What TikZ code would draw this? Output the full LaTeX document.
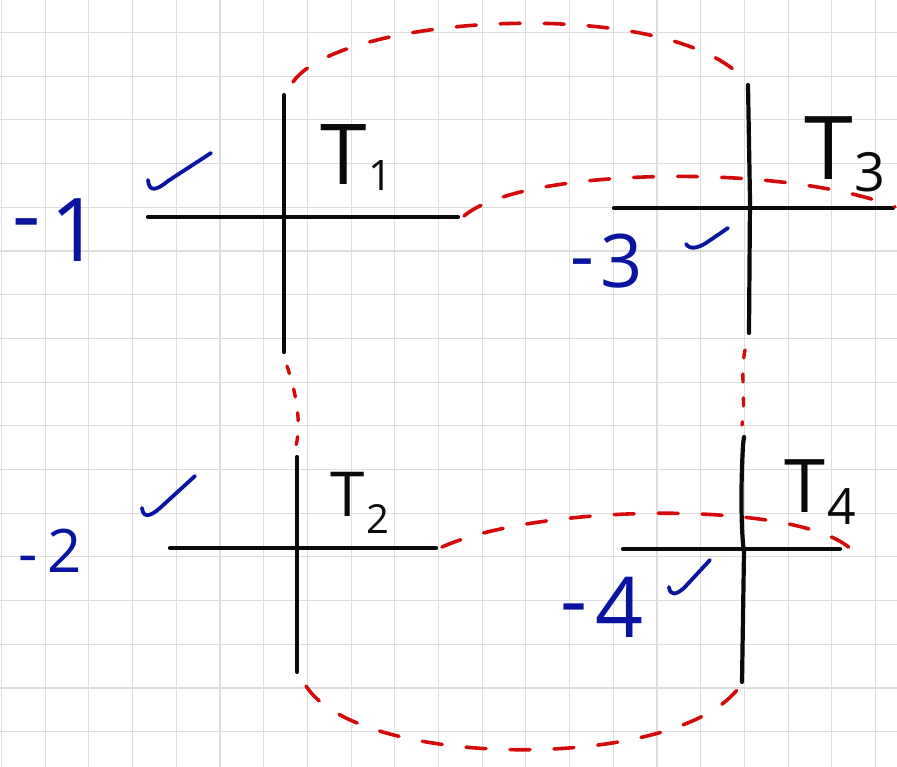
\documentclass[tikz,border=0pt]{standalone}
\usepackage{fontspec}
\setmainfont{Open Sans}
\definecolor{gridc}{RGB}{222,222,222}
\definecolor{pen}{RGB}{10,10,10}
\definecolor{bluepen}{RGB}{10,20,160}
\definecolor{redpen}{RGB}{212,10,10}
\tikzset{
  axisline/.style={draw=pen,line width=4.2pt,line cap=round},
  redpath/.style={draw=redpen,line width=3.6pt,line cap=round,dash pattern=on 20pt off 24pt},
  reddots/.style={draw=redpen,line width=3.4pt,line cap=round,dash pattern=on 8pt off 16pt},
  tick/.style={draw=bluepen,line width=3.8pt,line cap=round,line join=round},
  tlab/.style={inner sep=0pt,anchor=base west,text=pen},
  blab/.style={inner sep=0pt,anchor=base west,text=bluepen},
}
\begin{document}
\begin{tikzpicture}[x=1pt,y=-1pt]
\useasboundingbox (0,0) rectangle (897,767);
\fill[white] (0,0) rectangle (897,767);
% grid
\foreach \k in {0,...,20} \draw[gridc,line width=1.1pt] ({1.5+43.7*\k},0) -- ({1.5+43.7*\k},767);
\foreach \k in {0,...,16} \draw[gridc,line width=1.1pt] (0,{32.5+43.7*\k}) -- (897,{32.5+43.7*\k});

% cross T1
\coordinate (a1t) at (284,95); \coordinate (a1b) at (284,352);
\coordinate (a1l) at (148,217); \coordinate (a1r) at (458,217);
% cross T2
\coordinate (a2t) at (297,457); \coordinate (a2b) at (297,672);
\coordinate (a2l) at (170,548); \coordinate (a2r) at (436,548);
% cross T3
\coordinate (a3t) at (748,85); \coordinate (a3b) at (749,333);
\coordinate (a3l) at (614,208); \coordinate (a3r) at (893,208);
% cross T4
\coordinate (a4t) at (744,437); \coordinate (a4b) at (742,682);
\coordinate (a4l) at (623,549); \coordinate (a4r) at (840,549);

\draw[axisline] (a1t) -- (a1b); \draw[axisline] (a1l) -- (a1r);
\draw[axisline] (a2t) -- (a2b); \draw[axisline] (a2l) -- (a2r);
\draw[axisline] (a3t) -- (750,200) -- (a3b); \draw[axisline] (a3l) -- (a3r);
\draw[axisline] (a4t) -- (743,445) .. controls (740,500) and (742,540) .. (744,552) -- (a4b); \draw[axisline] (a4l) -- (a4r);

% labels T
\node[tlab,font=\fontsize{84}{84}\selectfont] (t1) at (320,185) {T\kern2pt\raisebox{-6pt}{\fontsize{42}{42}\selectfont 1}};
\node[tlab,font=\fontsize{62}{62}\selectfont] (t2) at (330,516) {T\kern2pt\raisebox{-17pt}{\fontsize{40}{40}\selectfont 2}};
\node[tlab,font=\fontsize{88}{88}\selectfont] (t3) at (804,180) {T\kern2pt\raisebox{-12pt}{\fontsize{54}{54}\selectfont 3}};
\node[tlab,font=\fontsize{74}{74}\selectfont] (t4) at (784,512) {T\kern2pt\raisebox{-12pt}{\fontsize{50}{50}\selectfont 4}};

% blue labels
\node[blab,font=\fontsize{88}{88}\selectfont] (n1) at (12,262) {\raisebox{16pt}{-}\kern10pt 1};
\node[blab,font=\fontsize{60}{60}\selectfont] (n2) at (18,572) {\raisebox{-2pt}{-}\kern10pt 2};
\node[blab,font=\fontsize{74}{74}\selectfont] (n3) at (570,288) {\raisebox{6pt}{-}\kern6pt 3};
\node[blab,font=\fontsize{84}{84}\selectfont] (n4) at (560,637) {\raisebox{8pt}{-}\kern8pt 4};

% check marks
\draw[tick] (148,180) .. controls (149,192) and (156,191) .. (168,181) -- (211,153);
\draw[tick] (142,508) .. controls (143,518) and (150,517) .. (160,508) -- (195,476);
\draw[tick] (686,244) .. controls (690,250) and (698,248) .. (706,243) -- (728,228);
\draw[tick] (669,587) .. controls (670,596) and (676,595) .. (684,588) -- (710,560);

% red dashed connections
\coordinate (r1s) at (293,82); \coordinate (r1e) at (742,77);
\draw[redpath] (r1s) .. controls (340,15) and (660,-5) .. (r1e);
\coordinate (r2s) at (464,216); \coordinate (r2e) at (895,207);
\draw[redpath] (r2s) .. controls (520,168) and (780,162) .. (r2e);
\coordinate (r3s) at (287,366); \coordinate (r3e) at (296,446);
\draw[reddots] (r3s) .. controls (295,390) and (302,420) .. (r3e);
\coordinate (r4s) at (745,350); \coordinate (r4e) at (742,425);
\draw[reddots] (r4s) .. controls (740,375) and (746,400) .. (r4e);
\coordinate (r5s) at (442,547); \coordinate (r5e) at (852,550);
\draw[redpath] (r5s) .. controls (540,503) and (800,500) .. (r5e);
\coordinate (r6s) at (306,686); \coordinate (r6e) at (740,686);
\draw[redpath] (r6s) .. controls (360,770) and (680,772) .. (r6e);
\end{tikzpicture}
\end{document}
